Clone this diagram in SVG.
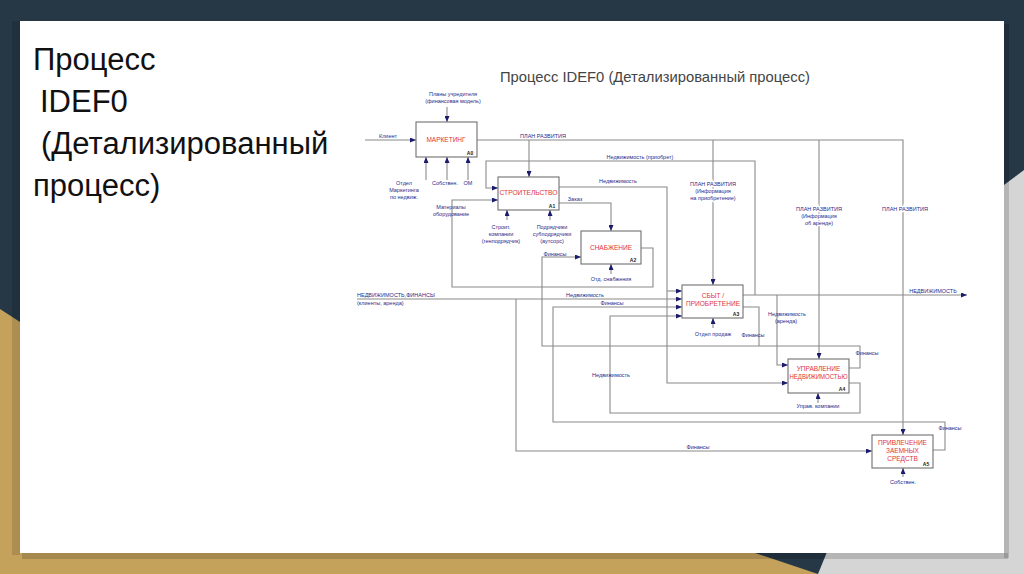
<svg xmlns="http://www.w3.org/2000/svg" width="1024" height="574" viewBox="0 0 1024 574">
<defs>
<style>
.ln{stroke:#8a8a8a;stroke-width:1.1;fill:none}
.ar{stroke:#8a8a8a;stroke-width:1.1;fill:none;marker-end:url(#ah)}
.lb{font-family:"Liberation Sans",Arial,sans-serif;font-size:5.5px;fill:#2a2a8a;text-anchor:middle}
.lh{stroke:#fff;stroke-width:2.5;paint-order:stroke}
.ls{text-anchor:start}
.box{fill:#fff;stroke:#707070;stroke-width:1.1}
.bt{font-family:"Liberation Sans",Arial,sans-serif;font-size:6.5px;fill:#e0333c;text-anchor:middle}
.nm{font-family:"Liberation Sans",Arial,sans-serif;font-size:5px;fill:#222;font-weight:bold;text-anchor:middle}
.hd{font-family:"Liberation Sans",Arial,sans-serif;font-size:31px;fill:#111}
</style>
<marker id="ah" markerWidth="6" markerHeight="5" refX="6" refY="2.5" orient="auto" markerUnits="userSpaceOnUse">
<path d="M0,0 L6,2.5 L0,5 z" fill="#1c1c6e"/>
</marker>
<clipPath id="hc"><rect x="20" y="21" width="308" height="200"/></clipPath>
</defs>

<g id="background">
<rect x="0" y="0" width="1024" height="574" fill="#263746"/>
<polygon points="0,309 20,322 755,553 818,574 0,574" fill="#c4a25c"/>
<polygon points="1024,170 1004,185 930,300 818,574 1024,574" fill="#d5d5d5"/>
<rect x="12" y="21" width="8" height="534" fill="#000" opacity="0.12"/>
<rect x="22" y="553" width="986" height="6" fill="#000" opacity="0.15"/>
<rect x="1004" y="24" width="5" height="534" fill="#000" opacity="0.15"/>
<rect x="20" y="21" width="984" height="532" fill="#fff"/>
</g>

<g id="heading" clip-path="url(#hc)">
<text class="hd" x="33" y="70">Процесс</text>
<text class="hd" x="40" y="112">IDEF0</text>
<text class="hd" x="41" y="154">(Детализированный</text>
<text class="hd" x="33" y="196">процесс)</text>
</g>

<text id="title" x="655" y="82" font-family="'Liberation Sans',Arial,sans-serif" font-size="15" fill="#444" text-anchor="middle" textLength="310" lengthAdjust="spacingAndGlyphs">Процесс IDEF0 (Детализированный процесс)</text>

<g id="connectors">
<path class="ar" d="M365,140 H416"/>
<path class="ar" d="M447,107 V122"/>
<path class="ar" d="M426,180 V157"/>
<path class="ar" d="M447,180 V157"/>
<path class="ar" d="M468,180 V157"/>
<path class="ar" d="M477,140 H903 V435"/>
<path class="ar" d="M529,140 V177"/>
<path class="ar" d="M713,140 V285"/>
<path class="ar" d="M819,140 V359"/>
<path class="ar" d="M743,295 H967"/>
<path class="ar" d="M755,295 V161 H486 V188 H498"/>
<path class="ar" d="M777,295 V365 H788"/>
<path class="ar" d="M559,187 H667 V383 H788"/>
<path class="ar" d="M667,291 H682"/>
<path class="ar" d="M559,203 H611 V231"/>
<path class="ar" d="M641,248 H653 V287 H452 V200 H498"/>
<path class="ar" d="M507,220 V210"/>
<path class="ar" d="M550,220 V210"/>
<path class="ar" d="M611,274 V264"/>
<path class="ar" d="M849,368 H860 V346 H542 V257 H581"/>
<path class="ln" d="M743,307 H759 V346"/>
<path class="ar" d="M849,383 H860 V413 H610 V316 H682"/>
<path class="ar" d="M933,450 H945 V422 H553 V307 H682"/>
<path class="ar" d="M357,299 H682"/>
<path class="ar" d="M516,299 V451 H872"/>
<path class="ar" d="M713,328 V318"/>
<path class="ar" d="M818,403 V393"/>
<path class="ar" d="M903,477 V468"/>
</g>

<g id="labels">
<text class="lb" x="388" y="138">Клиент</text>
<text class="lb" x="453" y="96">Планы учредителя</text>
<text class="lb" x="453" y="103">(финансовая модель)</text>
<text class="lb" x="543" y="138">ПЛАН РАЗВИТИЯ</text>
<text class="lb" x="404" y="185">Отдел</text>
<text class="lb" x="404" y="192">Маркетинга</text>
<text class="lb" x="404" y="199">по недвиж.</text>
<text class="lb" x="445" y="185">Собствен.</text>
<text class="lb" x="468" y="185">ОМ</text>
<text class="lb" x="640" y="159">Недвижимость (приобрет)</text>
<text class="lb" x="618" y="183">Недвижимость</text>
<text class="lb" x="575" y="201">Заказ</text>
<text class="lb" x="451" y="209">Материалы</text>
<text class="lb" x="451" y="216">оборудование</text>
<text class="lb" x="501" y="229">Строит.</text>
<text class="lb" x="501" y="236">компании</text>
<text class="lb" x="501" y="243">(генподрядчик)</text>
<text class="lb" x="552" y="229">Подрядчики</text>
<text class="lb" x="552" y="236">субподрядчики</text>
<text class="lb" x="552" y="243">(аутсорс)</text>
<text class="lb" x="555" y="256">Финансы</text>
<text class="lb" x="611" y="281">Отд. снабжения</text>
<text class="lb lh" x="713" y="186">ПЛАН РАЗВИТИЯ</text>
<text class="lb lh" x="713" y="193">(Информация</text>
<text class="lb lh" x="713" y="200">на приобретение)</text>
<text class="lb lh" x="819" y="211">ПЛАН РАЗВИТИЯ</text>
<text class="lb lh" x="819" y="218">(Информация</text>
<text class="lb lh" x="819" y="225">об аренде)</text>
<text class="lb lh" x="905" y="211">ПЛАН РАЗВИТИЯ</text>
<text class="lb ls" x="357" y="297">НЕДВИЖИМОСТЬ,ФИНАНСЫ</text>
<text class="lb ls" x="357" y="305">(клиенты, аренда)</text>
<text class="lb" x="585" y="297">Недвижимость</text>
<text class="lb" x="612" y="305">Финансы</text>
<text class="lb" x="713" y="336">Отдел продаж</text>
<text class="lb" x="753" y="337">Финансы</text>
<text class="lb" x="787" y="316">Недвижимость</text>
<text class="lb" x="786" y="323">(аренда)</text>
<text class="lb" x="933" y="293">НЕДВИЖИМОСТЬ</text>
<text class="lb" x="867" y="355">Финансы</text>
<text class="lb" x="818" y="408">Управ. компании</text>
<text class="lb" x="611" y="377">Недвижимость</text>
<text class="lb" x="950" y="430">Финансы</text>
<text class="lb" x="698" y="449">Финансы</text>
<text class="lb" x="903" y="484">Собствен.</text>
</g>

<g id="A0">
<rect class="box" x="416" y="122" width="61" height="35"/>
<text class="bt" x="446" y="142">МАРКЕТИНГ</text>
<text class="nm" x="470" y="155">A0</text>
</g>
<g id="A1">
<rect class="box" x="498" y="177" width="61" height="33"/>
<text class="bt" x="528.5" y="195" textLength="58" lengthAdjust="spacingAndGlyphs">СТРОИТЕЛЬСТВО</text>
<text class="nm" x="552" y="208">A1</text>
</g>
<g id="A2">
<rect class="box" x="581" y="231" width="60" height="33"/>
<text class="bt" x="611" y="250">СНАБЖЕНИЕ</text>
<text class="nm" x="633" y="262">A2</text>
</g>
<g id="A3">
<rect class="box" x="682" y="285" width="61" height="33"/>
<text class="bt" x="713" y="298">СБЫТ /</text>
<text class="bt" x="713" y="306" textLength="54" lengthAdjust="spacingAndGlyphs">ПРИОБРЕТЕНИЕ</text>
<text class="nm" x="736" y="316">A3</text>
</g>
<g id="A4">
<rect class="box" x="788" y="359" width="61" height="34"/>
<text class="bt" x="818.5" y="371">УПРАВЛЕНИЕ</text>
<text class="bt" x="818.5" y="379" textLength="58" lengthAdjust="spacingAndGlyphs">НЕДВИЖИМОСТЬЮ</text>
<text class="nm" x="842" y="391">A4</text>
</g>
<g id="A5">
<rect class="box" x="872" y="435" width="61" height="33"/>
<text class="bt" x="902.5" y="445">ПРИВЛЕЧЕНИЕ</text>
<text class="bt" x="902.5" y="453">ЗАЕМНЫХ</text>
<text class="bt" x="902.5" y="461">СРЕДСТВ</text>
<text class="nm" x="926" y="466">A5</text>
</g>
</svg>
